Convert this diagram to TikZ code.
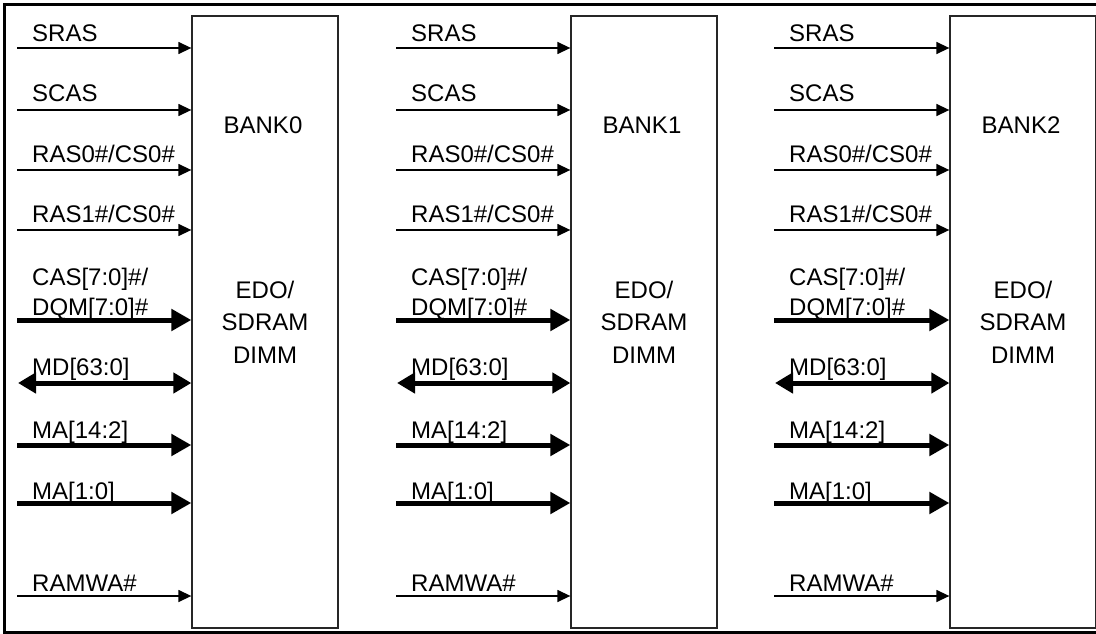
\documentclass[tikz,border=0pt]{standalone}
\usepackage{fontspec}
\setmainfont{Liberation Sans}
\usetikzlibrary{arrows.meta}
\begin{document}
\begin{tikzpicture}[x=1pt,y=-1pt,
  font=\fontsize{24}{28}\selectfont,
  bank/.style={draw=black!85, line width=1.3pt, minimum width=146pt, minimum height=612pt, inner sep=0pt},
  sig/.style={line width=1.4pt, -{Triangle[length=13pt,width=12pt]}},
  bus/.style={line width=5pt, -{Triangle[length=20pt,width=21pt]}},
  bibus/.style={line width=5pt, {Triangle[length=18pt,width=20pt]}-{Triangle[length=18pt,width=20pt]}},
  lab/.style={anchor=base west, inner sep=0pt},
  txt/.style={anchor=base, inner sep=0pt}]
\useasboundingbox (0,0) rectangle (1096,634);
\draw[line width=3pt] (4,5) rectangle (1099,632);
\foreach \i/\cx/\sx in {0/265/17, 1/644/396, 2/1023/774}{
  \node[bank] (b\i) at (\cx,322) {};
  \node[txt] (bk\i) at (\cx-2,133) {BANK\i};
  \node[txt] (e\i) at (\cx,298) {EDO/};
  \node[txt] (sd\i) at (\cx,330) {SDRAM};
  \node[txt] (dm\i) at (\cx,363) {DIMM};
  % thin signals
  \foreach \y/\g/\t in {48/6/SRAS, 110/8/SCAS, 170/8/{RAS0\#/CS0\#}, 230/8/{RAS1\#/CS0\#}, 596/5/{RAMWA\#}}{
    \coordinate (s\i-\y) at (\sx,\y);
    \draw[sig] (s\i-\y) -- (b\i.west |- s\i-\y);
    \node[lab] (l\i-\y) at (\sx+15,\y-\g) {\t};
  }
  % buses
  \foreach \y/\g/\t in {445/7/{MA[14:2]}, 503/4/{MA[1:0]}}{
    \coordinate (s\i-\y) at (\sx,\y);
    \draw[bus] (s\i-\y) -- (b\i.west |- s\i-\y);
    \node[lab] (l\i-\y) at (\sx+15,\y-\g) {\t};
  }
  \coordinate (s\i-320) at (\sx,320);
  \draw[bus] (s\i-320) -- (b\i.west |- s\i-320);
  \node[lab] (la\i-320) at (\sx+15,285) {CAS[7:0]\#/};
  \node[lab] (lb\i-320) at (\sx+15,315) {DQM[7:0]\#};
  \coordinate (s\i-383) at (\sx+1,383);
  \draw[bibus] (s\i-383) -- (b\i.west |- s\i-383);
  \node[lab] (l\i-383) at (\sx+15,375) {MD[63:0]};
}
\end{tikzpicture}
\end{document}
